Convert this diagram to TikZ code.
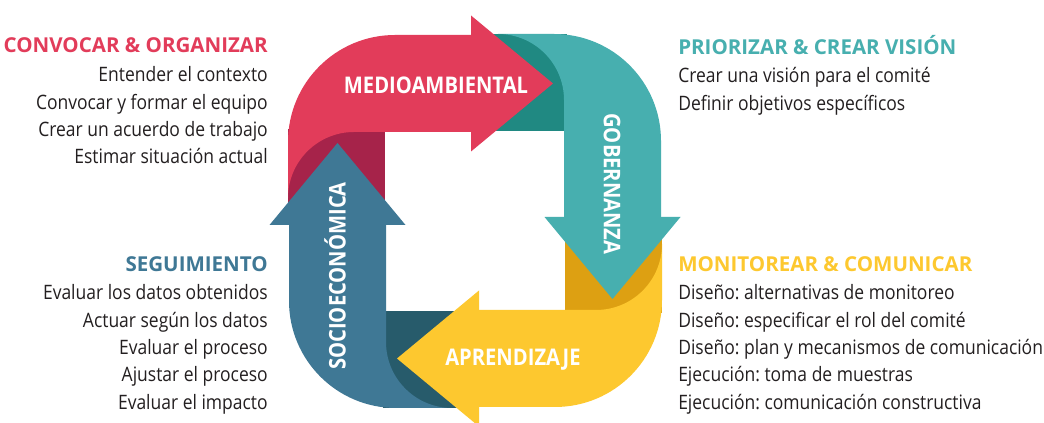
\documentclass[tikz,border=0pt]{standalone}
\usepackage{fontspec}
\setmainfont{Open Sans}[FakeStretch=0.88]
\newfontfamily\headfont{Open Sans}
\usetikzlibrary{positioning}
\frenchspacing

\definecolor{medio}{HTML}{E23C5A}
\definecolor{mediodark}{HTML}{A6234A}
\definecolor{gober}{HTML}{47AFAF}
\definecolor{goberdark}{HTML}{208982}
\definecolor{apren}{HTML}{FDC82F}
\definecolor{aprendark}{HTML}{DDA012}
\definecolor{socio}{HTML}{3F7895}
\definecolor{sociodark}{HTML}{275B6B}
\definecolor{ink}{HTML}{231F20}

\begin{document}
\begin{tikzpicture}[x=0.75pt,y=0.75pt]

  \tikzstyle{heading} = [inner sep=0pt, font=\headfont\fontsize{15.4}{17}\selectfont\bfseries]
  \tikzstyle{tasklist} = [inner sep=0pt, text=ink, font=\fontsize{14.9}{18}\selectfont]
  \tikzstyle{armtext} = [inner sep=0pt, text=white, font=\fontsize{17.2}{19}\selectfont\bfseries]

  \fill[white] (0,0) rectangle (1044,423);
  \useasboundingbox (0,0) rectangle (1044,423);

  % arrow bodies, each one turned round the centre
  \foreach \ang/\light/\dark in {0/medio/mediodark, -90/gober/goberdark, 180/apren/aprendark, 90/socio/sociodark}
  {
    \begin{scope}[shift={(475,202)}, rotate=\ang]
      \fill[\dark] (-187,-3) rectangle (-90,92);
      \fill[\light] (-3,89) -- (-121,89) arc[start angle=90, end angle=180, radius=66]
        -- (-187,79) arc[start angle=180, end angle=90, radius=107] -- (-3,186) -- cycle;
    \end{scope}
  }
  % arrow heads on top
  \foreach \ang/\light in {0/medio, -90/gober, 180/apren, 90/socio}
  {
    \fill[\light, shift={(475,202)}, rotate=\ang] (-4,205.5) -- (78,137.5) -- (-4,69.5) -- cycle;
  }

  \node[armtext] (medio) at (436,338) {MEDIOAMBIENTAL};
  \node[armtext, rotate=-90] (gober) at (612,239) {GOBERNANZA};
  \node[armtext] (apren) at (513,63.5) {APRENDIZAJE};
  \node[armtext, rotate=90] (socio) at (335,147) {SOCIOECONÓMICA};

  % top left
  \node[heading, text=medio, anchor=base east] (convocar) at (268,370) {CONVOCAR \& ORGANIZAR};
  \foreach \txt [count=\i] in {Entender el contexto, Convocar y formar el equipo,
      Crear un acuerdo de trabajo, Estimar situación actual}
    \node[tasklist, anchor=base east] (convocar-\i) at (268,368.3-27.3*\i) {\txt};

  % top right
  \node[heading, text=gober, anchor=base west] (priorizar) at (678,368) {PRIORIZAR \& CREAR VISIÓN};
  \foreach \txt [count=\i] in {Crear una visión para el comité, Definir objetivos específicos}
    \node[tasklist, anchor=base west] (priorizar-\i) at (678,367.3-27.3*\i) {\txt};

  % bottom right
  \node[heading, text=apren, anchor=base west] (monitorear) at (678,151.3) {MONITOREAR \& COMUNICAR};
  \foreach \txt [count=\i] in {Diseño: alternativas de monitoreo, Diseño: especificar el rol del comité,
      Diseño: plan y mecanismos de comunicación, Ejecución: toma de muestras,
      Ejecución: comunicación constructiva}
    \node[tasklist, anchor=base west] (monitorear-\i) at (678,150.3-27.3*\i) {\txt};

  % bottom left
  \node[heading, text=socio, anchor=base east] (seguimiento) at (268,151.3) {SEGUIMIENTO};
  \foreach \txt [count=\i] in {Evaluar los datos obtenidos, Actuar según los datos,
      Evaluar el proceso, Ajustar el proceso, Evaluar el impacto}
    \node[tasklist, anchor=base east] (seguimiento-\i) at (268,150.3-27.3*\i) {\txt};

\end{tikzpicture}
\end{document}
